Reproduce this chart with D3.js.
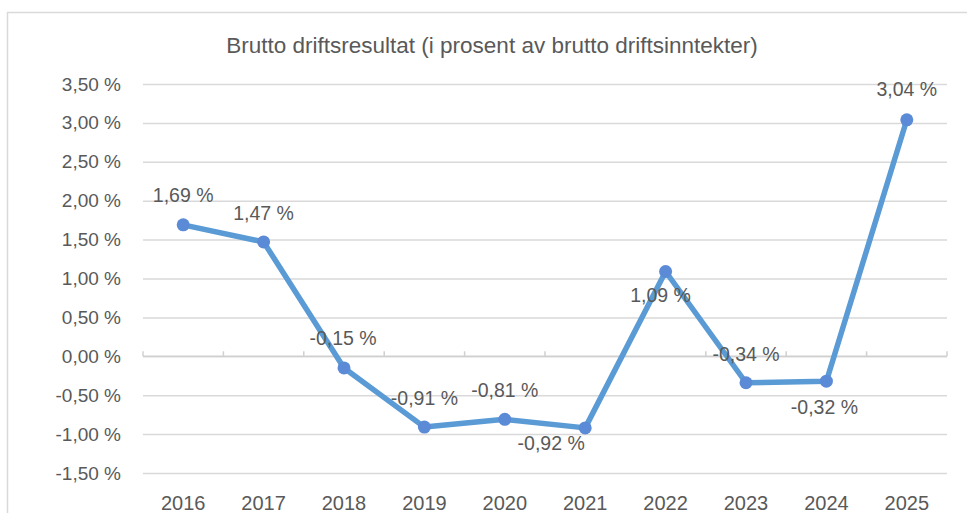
<!DOCTYPE html>
<html>
<head>
<meta charset="utf-8">
<script src="https://cdn.jsdelivr.net/npm/d3@7"></script>
<style>
  html, body { margin: 0; padding: 0; background: #fff; }
  svg { display: block; }
  text { font-family: "Liberation Sans", Arial, sans-serif; fill: #595959; }
</style>
</head>
<body>
<svg id="chart" width="967" height="513"></svg>
<script>
// ---- data ----
const title = "Brutto driftsresultat (i prosent av brutto driftsinntekter)";
const years = ["2016", "2017", "2018", "2019", "2020", "2021", "2022", "2023", "2024", "2025"];
const values = [1.69, 1.47, -0.15, -0.91, -0.81, -0.92, 1.09, -0.34, -0.32, 3.04];
const yTicks = [-1.5, -1.0, -0.5, 0, 0.5, 1.0, 1.5, 2.0, 2.5, 3.0, 3.5];
// label placement relative to each point (px)
const labelDx = [0, 0, -1, 0, 0, -34, -5, 0, -2, 0];
const labelDy = [-30, -29, -30, -29, -29, 15, 24, -29, 26, -31];

// ---- layout ----
const svg = d3.select("#chart");
const W = 967, H = 513;
const plot = { left: 143, right: 947, top: 84, bottom: 473 };

const locale = d3.formatLocale({ decimal: ",", thousands: " ", grouping: [3], currency: ["", " kr"], minus: "-" });
const f2 = locale.format(".2f");
const pct = v => f2(v) + " %";

const x = d3.scaleBand().domain(years).range([plot.left, plot.right]).padding(0);
const y = d3.scaleLinear().domain([-1.5, 3.5]).range([plot.bottom, plot.top]);
const cx = d => x(d) + x.bandwidth() / 2;

// chart border
svg.append("rect")
  .attr("x", 7.5).attr("y", 12.5).attr("width", W + 10).attr("height", H + 10)
  .attr("fill", "none").attr("stroke", "#d9d9d9").attr("stroke-width", 1.5);

// title
svg.append("text")
  .attr("x", 492).attr("y", 53)
  .attr("text-anchor", "middle")
  .style("font-size", "22.5px")
  .text(title);

// gridlines + y labels
const yAxis = d3.axisLeft(y).tickValues(yTicks).tickSize(-(plot.right - plot.left)).tickPadding(22).tickFormat(pct);
const gy = svg.append("g").attr("transform", `translate(${plot.left},0)`).call(yAxis);
gy.select(".domain").remove();
gy.selectAll(".tick line").attr("stroke", "#d9d9d9").attr("stroke-width", 1.5);
gy.selectAll(".tick text").style("font-size", "19px").attr("fill", "#595959").style("font-family", "'Liberation Sans', Arial, sans-serif");

// zero axis with category boundary ticks
const bounds = years.map(d => x(d)).concat([plot.right]);
svg.append("g").selectAll("line").data(bounds).join("line")
  .attr("x1", d => d).attr("x2", d => d)
  .attr("y1", y(0)).attr("y2", y(0) - 5)
  .attr("stroke", "#d0d0d0").attr("stroke-width", 1.5);
svg.append("line")
  .attr("x1", plot.left).attr("x2", plot.right).attr("y1", y(0)).attr("y2", y(0))
  .attr("stroke", "#d0d0d0").attr("stroke-width", 1.5);

// x labels
const xAxis = d3.axisBottom(x).tickSize(0).tickPadding(0);
const gx = svg.append("g").attr("transform", `translate(0,${plot.bottom})`).call(xAxis);
gx.select(".domain").remove();
gx.selectAll(".tick text")
  .attr("y", 37).attr("dy", null)
  .style("font-size", "20px").attr("fill", "#595959")
  .style("font-family", "'Liberation Sans', Arial, sans-serif");

// line
const pts = years.map((d, i) => ({ year: d, v: values[i], i }));
svg.append("path")
  .datum(pts)
  .attr("fill", "none")
  .attr("stroke", "#5B9BD5")
  .attr("stroke-width", 5.5)
  .attr("stroke-linejoin", "round")
  .attr("d", d3.line().x(d => cx(d.year)).y(d => y(d.v)));

// markers
svg.append("g").selectAll("circle").data(pts).join("circle")
  .attr("cx", d => cx(d.year)).attr("cy", d => y(d.v))
  .attr("r", 6.5)
  .attr("fill", "#5B8AD6");

// data labels
svg.append("g").selectAll("text").data(pts).join("text")
  .attr("x", d => cx(d.year) + labelDx[d.i])
  .attr("y", d => y(d.v) + labelDy[d.i])
  .attr("text-anchor", "middle")
  .attr("dominant-baseline", "central")
  .style("font-size", "19.5px")
  .text(d => pct(d.v));
</script>
</body>
</html>
